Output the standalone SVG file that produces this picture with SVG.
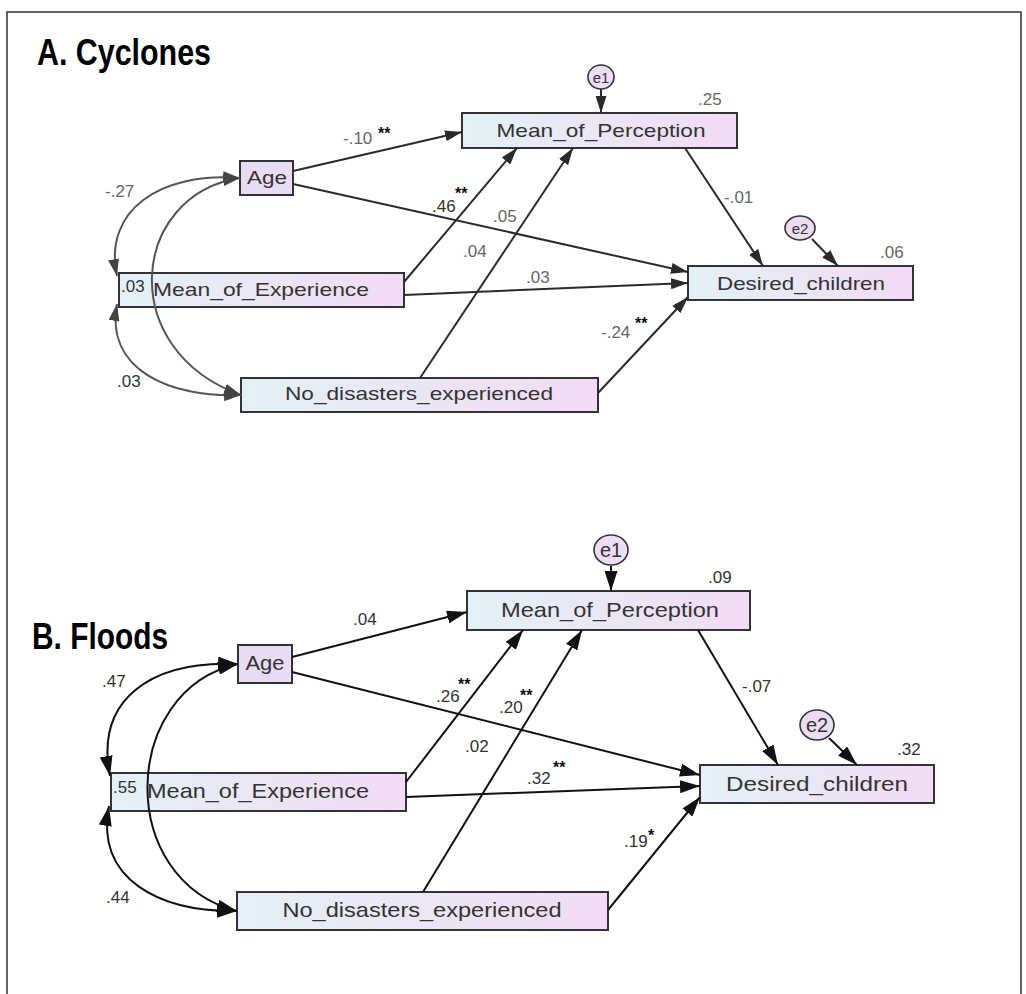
<svg xmlns="http://www.w3.org/2000/svg" width="1026" height="994" viewBox="0 0 1026 994">
<style>
.box{fill:url(#g);stroke:#333;stroke-width:2}
.agebox{fill:#e8dcf4;stroke:#333;stroke-width:2}
.err{fill:#ecdcf4;stroke:#333;stroke-width:1.6}
.lbl{font-family:"Liberation Sans",Arial,sans-serif;fill:#333;text-anchor:middle}
.num{font-family:"Liberation Sans",Arial,sans-serif;font-size:17px;fill:#333}
.numg{font-family:"Liberation Sans",Arial,sans-serif;font-size:17px;fill:#666}
.sig{font-family:"Liberation Sans",Arial,sans-serif;font-size:16px;font-weight:bold;fill:#111}
.title{font-family:"Liberation Sans",Arial,sans-serif;font-size:36px;font-weight:bold;fill:#000}
.edgeA{stroke:#2a2a2a;stroke-width:2;fill:none;marker-end:url(#ah)}
.edgeB{stroke:#111;stroke-width:2;fill:none;marker-end:url(#ahB)}
.covA{stroke:#555;stroke-width:2;fill:none;marker-start:url(#ahc);marker-end:url(#ahc)}
.covB{stroke:#111;stroke-width:2;fill:none;marker-start:url(#ahcB);marker-end:url(#ahcB)}
</style>
<defs>
<linearGradient id="g" x1="0" y1="0" x2="1" y2="0">
<stop offset="0" stop-color="#e3f1f6"/>
<stop offset="1" stop-color="#f3dbf5"/>
</linearGradient>
<marker id="ah" viewBox="0 0 17 11" refX="17" refY="5.5" markerWidth="17" markerHeight="11" markerUnits="userSpaceOnUse" orient="auto">
<path d="M0,0 L17,5.5 L0,11 z" fill="#2a2a2a"/>
</marker>
<marker id="ahB" viewBox="0 0 20 13" refX="20" refY="6.5" markerWidth="20" markerHeight="13" markerUnits="userSpaceOnUse" orient="auto">
<path d="M0,0 L20,6.5 L0,13 z" fill="#111"/>
</marker>
<marker id="ahc" viewBox="0 0 17 11" refX="17" refY="5.5" markerWidth="17" markerHeight="11" markerUnits="userSpaceOnUse" orient="auto-start-reverse">
<path d="M0,0 L17,5.5 L0,11 z" fill="#444"/>
</marker>
<marker id="ahcB" viewBox="0 0 20 13" refX="20" refY="6.5" markerWidth="20" markerHeight="13" markerUnits="userSpaceOnUse" orient="auto-start-reverse">
<path d="M0,0 L20,6.5 L0,13 z" fill="#111"/>
</marker>
</defs>
<rect x="0" y="0" width="1026" height="994" fill="#fff"/>
<rect x="7" y="12" width="1014" height="1000" fill="none" stroke="#333" stroke-width="1.5"/>

<text class="title" x="37" y="65" textLength="174" lengthAdjust="spacingAndGlyphs">A. Cyclones</text>
<text class="title" x="32" y="649" textLength="136" lengthAdjust="spacingAndGlyphs">B. Floods</text>

<!-- ============ A. Cyclones ============ -->
<g id="A-age">
<rect class="agebox" x="240" y="161" width="53" height="34"/>
<text class="lbl" x="267" y="184" font-size="19" textLength="40" lengthAdjust="spacingAndGlyphs">Age</text>
</g>
<g id="A-experience">
<rect class="box" x="119" y="273" width="285" height="34"/>
<text class="lbl" x="261" y="296" font-size="19" textLength="216" lengthAdjust="spacingAndGlyphs">Mean_of_Experience</text>
<text class="num" x="121" y="292" font-size="14">.03</text>
</g>
<g id="A-disasters">
<rect class="box" x="241" y="378" width="357" height="34"/>
<text class="lbl" x="419" y="400" font-size="19" textLength="268" lengthAdjust="spacingAndGlyphs">No_disasters_experienced</text>
</g>
<g id="A-perception">
<rect class="box" x="462" y="113" width="275" height="35"/>
<text class="lbl" x="601" y="137" font-size="19" textLength="209" lengthAdjust="spacingAndGlyphs">Mean_of_Perception</text>
</g>
<g id="A-desired">
<rect class="box" x="688" y="266" width="225" height="34"/>
<text class="lbl" x="801" y="290" font-size="19" textLength="168" lengthAdjust="spacingAndGlyphs">Desired_children</text>
</g>
<g id="A-e1">
<ellipse class="err" cx="601" cy="77" rx="13" ry="12"/>
<text class="lbl" x="601" y="83" font-size="15" fill="#555">e1</text>
</g>
<g id="A-e2">
<ellipse class="err" cx="800" cy="228" rx="15" ry="12"/>
<text class="lbl" x="800" y="234" font-size="15">e2</text>
</g>

<g id="connectors-A">
<path class="edgeA" d="M293 171 L462 132"/>
<path class="edgeA" d="M293 184 L688 272"/>
<path class="edgeA" d="M404 282 L517 148"/>
<path class="edgeA" d="M404 295 L688 283"/>
<path class="edgeA" d="M420 378 L573 148"/>
<path class="edgeA" d="M598 393 L688 297"/>
<path class="edgeA" d="M685 148 L763 266"/>
<path class="edgeA" d="M601 89 L601 113"/>
<path class="edgeA" d="M812 239 L838 266"/>
<path class="covA" d="M240 178 C160 172 103 210 117 276"/>
<path class="covA" d="M117 304 C105 370 170 398 241 395"/>
<path class="covA" d="M240 178 C130 195 115 350 241 395"/>
</g>

<g id="A-labels">
<text class="numg" x="343" y="144">-.10</text><text class="sig" x="378" y="139">**</text>
<text class="num" x="432" y="212">.46</text><text class="sig" x="455" y="199">**</text>
<text class="numg" x="493" y="222">.05</text>
<text class="numg" x="463" y="257">.04</text>
<text class="numg" x="526" y="283">.03</text>
<text class="numg" x="724" y="203">-.01</text>
<text class="numg" x="698" y="105">.25</text>
<text class="numg" x="880" y="258">.06</text>
<text class="numg" x="601" y="338">-.24</text><text class="sig" x="635" y="329">**</text>
<text class="numg" x="105" y="197">-.27</text>
<text class="num" x="117" y="387" fill="#999">.03</text>
</g>

<!-- ============ B. Floods ============ -->
<g id="B-age">
<rect class="agebox" x="238" y="645" width="54" height="38"/>
<text class="lbl" x="265" y="670" font-size="20" textLength="39" lengthAdjust="spacingAndGlyphs">Age</text>
</g>
<g id="B-experience">
<rect class="box" x="111" y="773" width="295" height="38"/>
<text class="lbl" x="258" y="798" font-size="21" textLength="222" lengthAdjust="spacingAndGlyphs">Mean_of_Experience</text>
<text class="num" x="113" y="793" font-size="15">.55</text>
</g>
<g id="B-disasters">
<rect class="box" x="237" y="892" width="371" height="38"/>
<text class="lbl" x="422" y="917" font-size="21" textLength="279" lengthAdjust="spacingAndGlyphs">No_disasters_experienced</text>
</g>
<g id="B-perception">
<rect class="box" x="467" y="591" width="283" height="39"/>
<text class="lbl" x="610" y="617" font-size="21" textLength="218" lengthAdjust="spacingAndGlyphs">Mean_of_Perception</text>
</g>
<g id="B-desired">
<rect class="box" x="700" y="765" width="234" height="38"/>
<text class="lbl" x="817" y="791" font-size="21" textLength="182" lengthAdjust="spacingAndGlyphs">Desired_children</text>
</g>
<g id="B-e1">
<ellipse class="err" cx="611" cy="550" rx="17" ry="15"/>
<text class="lbl" x="611" y="557" font-size="20">e1</text>
</g>
<g id="B-e2">
<ellipse class="err" cx="817" cy="725" rx="17" ry="15"/>
<text class="lbl" x="817" y="732" font-size="20">e2</text>
</g>

<g id="connectors-B">
<path class="edgeB" d="M292 657 L467 612"/>
<path class="edgeB" d="M292 672 L700 775"/>
<path class="edgeB" d="M406 782 L523 630"/>
<path class="edgeB" d="M406 797 L700 786"/>
<path class="edgeB" d="M423 892 L582 630"/>
<path class="edgeB" d="M608 910 L700 797"/>
<path class="edgeB" d="M698 630 L778 765"/>
<path class="edgeB" d="M611 566 L611 591"/>
<path class="edgeB" d="M829 738 L857 765"/>
<path class="covB" d="M238 664 C150 660 95 700 110 776"/>
<path class="covB" d="M109 806 C95 880 160 912 237 911"/>
<path class="covB" d="M238 664 C120 690 115 880 237 911"/>
</g>

<g id="B-labels">
<text class="num" x="353" y="625">.04</text>
<text class="num" x="436" y="702">.26</text><text class="sig" x="458" y="690">**</text>
<text class="num" x="499" y="713">.20</text><text class="sig" x="520" y="701">**</text>
<text class="num" x="465" y="752">.02</text>
<text class="num" x="527" y="784">.32</text><text class="sig" x="553" y="773">**</text>
<text class="num" x="742" y="692">-.07</text>
<text class="num" x="708" y="583">.09</text>
<text class="num" x="897" y="755">.32</text>
<text class="num" x="624" y="847">.19</text><text class="sig" x="648" y="841">*</text>
<text class="num" x="102" y="687">.47</text>
<text class="num" x="106" y="903">.44</text>
</g>
</svg>
